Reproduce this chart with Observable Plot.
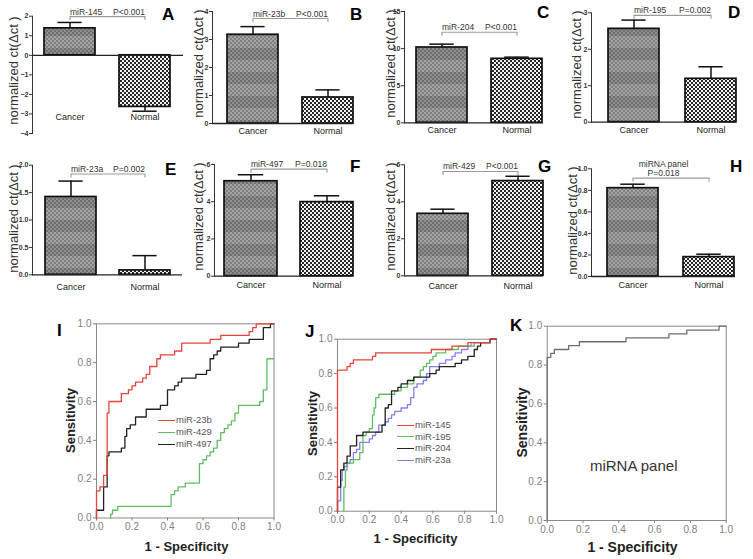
<!DOCTYPE html>
<html><head><meta charset="utf-8">
<script src="https://cdn.jsdelivr.net/npm/d3@7"></script>
<script src="https://cdn.jsdelivr.net/npm/@observablehq/plot@0.6"></script>
<style>
body{margin:0;background:#fff;}
#fig{position:relative;width:753px;height:559px;overflow:hidden;font-family:"Liberation Sans",Arial,sans-serif;background:#fff;}
.letter{position:absolute;font-weight:bold;font-size:17px;line-height:17px;color:#000;}
.leg{position:absolute;font-size:9.5px;color:#555;line-height:10px;white-space:nowrap;}
.leg .ln{display:inline-block;width:17px;height:0;border-top:1.6px solid;vertical-align:middle;margin-right:1px;}
</style></head><body>
<svg width="0" height="0" style="position:absolute;left:0;top:0">
<defs>
<pattern id="patCancer" width="4" height="24" patternUnits="userSpaceOnUse"></pattern>
<pattern id="patNormal" width="4" height="4" patternUnits="userSpaceOnUse">
<rect width="4" height="4" fill="#f2f2f2"/><rect x="0" y="0" width="2" height="2" fill="#262626"/><rect x="2" y="2" width="2" height="2" fill="#262626"/>
</pattern>
</defs></svg>
<div id="fig"></div>
<script>
// ---------- data: bar panels A-H ----------
const groups = ["Cancer", "Normal"];
const panelLetters = ["A","B","C","D","E","F","G","H"];
const panelMiRNA = ["miR-145","miR-23b","miR-204","miR-195","miR-23a","miR-497","miR-429","miRNA panel"];
const panelP = ["P<0.001","P<0.001","P<0.001","P=0.002","P=0.002","P=0.018","P<0.001","P=0.018"];
const cancerMean = [1.38, 3.17, 10.15, 2.56, 1.42, 5.10, 3.35, 0.82];
const cancerSEM  = [0.30, 0.29, 0.45, 0.24, 0.29, 0.35, 0.25, 0.037];
const normalMean = [-2.64, 0.93, 8.62, 1.19, 0.08, 3.98, 5.12, 0.18];
const normalSEM  = [0.22, 0.27, 0.23, 0.33, 0.27, 0.34, 0.26, 0.027];
const yAxisMin  = [-4, 0, 0, 0, 0, 0, 0, 0];
const yAxisMax  = [2, 4, 15, 3, 2, 6, 6, 1];
const yAxisStep = [1, 1, 5, 1, 0.5, 2, 2, 0.2];
const bracketLevel = [1.98, 3.75, 12.2, 2.93, 1.84, 5.75, 5.64, 0.913];
const yTitle = "normalized ct(\u0394ct )";

// ---------- data: ROC panels I-K (step vertices: 1-specificity, sensitivity) ----------
const rocTicks = [0, 0.2, 0.4, 0.6, 0.8, 1.0];
const I_miR23b_fpr = [0,0,0.02,0.04,0.06,0.07,0.14,0.18,0.20,0.22,0.26,0.28,0.30,0.34,0.36,0.44,0.48,0.64,0.70,0.86,0.88,0.90,1.0];
const I_miR23b_tpr = [0,0.14,0.16,0.22,0.54,0.60,0.64,0.66,0.68,0.70,0.72,0.74,0.78,0.82,0.84,0.86,0.90,0.92,0.94,0.96,0.98,1.0,1.0];
const I_miR429_fpr = [0.08,0.08,0.09,0.12,0.42,0.44,0.46,0.50,0.58,0.60,0.62,0.64,0.66,0.68,0.70,0.72,0.74,0.76,0.78,0.80,0.92,0.94,0.96,1.0];
const I_miR429_tpr = [0,0.02,0.04,0.06,0.12,0.14,0.16,0.18,0.28,0.30,0.32,0.34,0.36,0.40,0.44,0.46,0.48,0.50,0.54,0.58,0.60,0.66,0.82,0.82];
const I_miR497_fpr = [0,0,0.04,0.06,0.07,0.14,0.16,0.17,0.19,0.22,0.28,0.36,0.40,0.44,0.46,0.48,0.56,0.62,0.64,0.66,0.68,0.70,0.80,0.86,0.94,0.98,1.0];
const I_miR497_tpr = [0,0.04,0.16,0.32,0.34,0.36,0.42,0.46,0.48,0.52,0.56,0.58,0.66,0.68,0.70,0.72,0.74,0.76,0.82,0.84,0.86,0.88,0.90,0.92,0.98,1.0,1.0];
const J_miR145_fpr = [0,0,0.06,0.08,0.10,0.22,0.24,0.59,0.72,0.82,0.96,1.0];
const J_miR145_tpr = [0,0.82,0.84,0.86,0.88,0.90,0.92,0.94,0.96,0.98,1.0,1.0];
const J_miR195_fpr = [0.04,0.04,0.05,0.06,0.10,0.14,0.16,0.18,0.20,0.22,0.23,0.24,0.26,0.36,0.40,0.44,0.48,0.52,0.54,0.56,0.58,0.60,0.62,0.68,0.76,0.84,0.96,1.0];
const J_miR195_tpr = [0,0.14,0.24,0.28,0.30,0.34,0.44,0.46,0.48,0.56,0.60,0.66,0.68,0.70,0.72,0.74,0.78,0.82,0.84,0.86,0.88,0.90,0.92,0.94,0.96,0.98,1.0,1.0];
const J_miR204_fpr = [0,0,0.02,0.04,0.06,0.08,0.12,0.16,0.28,0.30,0.32,0.34,0.38,0.40,0.44,0.48,0.58,0.62,0.64,0.74,0.78,0.82,0.86,0.88,0.90,0.96,1.0];
const J_miR204_tpr = [0,0.14,0.24,0.28,0.32,0.38,0.44,0.46,0.50,0.60,0.62,0.70,0.72,0.74,0.76,0.78,0.80,0.82,0.84,0.86,0.88,0.90,0.94,0.96,0.98,1.0,1.0];
const J_miR23a_fpr = [0,0,0.02,0.03,0.04,0.06,0.08,0.10,0.12,0.14,0.20,0.22,0.24,0.26,0.30,0.32,0.34,0.36,0.40,0.44,0.46,0.48,0.50,0.54,0.56,0.58,0.64,0.68,0.72,0.74,0.78,0.82,0.86,0.96,1.0];
const J_miR23a_tpr = [0,0.06,0.18,0.24,0.26,0.28,0.30,0.34,0.36,0.40,0.42,0.44,0.46,0.50,0.52,0.54,0.56,0.58,0.60,0.62,0.66,0.72,0.74,0.76,0.80,0.84,0.86,0.88,0.90,0.92,0.94,0.96,0.98,1.0,1.0];
const K_panel_fpr = [0,0,0.02,0.04,0.12,0.18,0.44,0.68,0.78,0.96,1.0];
const K_panel_tpr = [0,0.84,0.86,0.88,0.90,0.92,0.94,0.96,0.98,1.0,1.0];

// ---------- layout (page pixels) ----------
const barBox   = [[0,0,188,148],[188,0,190,148],[378,0,187,148],[565,0,188,148],[0,148,188,152],[188,148,190,152],[378,148,187,152],[565,148,188,152]];
const barFrame = [[32,183,15.7,133],[212,353,11,123],[404,543,11,122.3],[591,736,12.3,121.7],[32,182,164.7,274.3],[214,353,164,275.7],[404,543,164.3,275.3],[591,735,168.3,276]];
const barPad   = [[12,12,24],[14,0,24],[12,1,24],[16,0,26],[13,11,23],[10,0,23],[12,0,24],[16,1,25]];
const catLabelY = [117,131,130,129.3,286.7,285,285.7,285];
const yTitlePos = [[13,70],[198,63],[390,63],[576,64],[13,218],[198,216],[390,216],[572,220]];
const letterPos = [[162,15],[350,15],[537,13],[728,13],[165,170],[350,167],[538,167],[730,167]];

// build cancer pattern (banded grey checker)
(function(){
  const p = document.getElementById("patCancer");
  const ns = "http://www.w3.org/2000/svg";
  const add = (x,y,w,h,f) => { const r = document.createElementNS(ns,"rect"); r.setAttribute("x",x); r.setAttribute("y",y); r.setAttribute("width",w); r.setAttribute("height",h); r.setAttribute("fill",f); p.appendChild(r); };
  add(0,0,4,12,"#8e8e8e"); add(0,12,4,12,"#a4a4a4");
  for (let r = 0; r < 12; r++) add((r%2)*2, r*2, 2, 2, "rgba(0,0,0,0.22)");
})();

const fig = document.getElementById("fig");
function place(el, x, y) { el.style.position = "absolute"; el.style.left = x + "px"; el.style.top = y + "px"; el.style.overflow = "visible"; fig.appendChild(el); }

const tickDown = { draw(ctx) { ctx.moveTo(0, 0); ctx.lineTo(0, 3.5); } };

for (let i = 0; i < 8; i++) {
  const [bx, by, bw, bh] = barBox[i];
  const [L, R, T, B] = barFrame[i];
  const [padL, padR, gap] = barPad[i];
  const band = (R - L - padL - padR - gap) / 2;
  const step = band + gap;
  const capInset = band * 0.26;
  const data = [
    {g: groups[0], v: cancerMean[i], e: cancerSEM[i]},
    {g: groups[1], v: normalMean[i], e: normalSEM[i]}
  ];
  const tip = d => d.v + (d.v < 0 ? -d.e : d.e);
  const ticks = d3.range(yAxisMin[i], yAxisMax[i] + yAxisStep[i] / 2, yAxisStep[i]);
  const fmt = yAxisStep[i] < 1 ? d3.format(".1f") : d3.format("d");
  const lvl = bracketLevel[i];
  const isPanel = i === 7;
  const marks = [
    Plot.barY([data[0]], {x: "g", y: "v", fill: "url(#patCancer)", stroke: "#111", strokeWidth: 1.7}),
    Plot.barY([data[1]], {x: "g", y: "v", fill: "url(#patNormal)", stroke: "#111", strokeWidth: 1.7}),
    Plot.ruleX(data, {x: "g", y1: "v", y2: tip, stroke: "#111", strokeWidth: 1.5}),
    Plot.tickY(data, {x: "g", y: tip, stroke: "#111", strokeWidth: 1.5, insetLeft: capInset, insetRight: capInset}),
    Plot.ruleY([0], {stroke: "#222", strokeWidth: 1.3}),
    Plot.line(groups, {x: d => d, y: () => lvl, stroke: "#9a9a9a", strokeWidth: 1.1}),
    Plot.dot(groups, {x: d => d, y: () => lvl, symbol: tickDown, stroke: "#9a9a9a", strokeWidth: 1.1}),
    Plot.text(groups, {x: d => d, text: d => d, frameAnchor: "bottom", lineAnchor: "middle", dy: catLabelY[i] - B, fontSize: 9, fontWeight: "normal", fill: "#222"}),
    Plot.text([yTitle], {frameAnchor: "left", textAnchor: "middle", lineAnchor: "middle", rotate: -90, dx: yTitlePos[i][0] - L, dy: yTitlePos[i][1] - (T + B) / 2, fontSize: 13, fontWeight: "normal", fill: "#333"})
  ];
  if (isPanel) {
    marks.push(Plot.text([panelMiRNA[i]], {y: () => lvl, text: d => d, lineAnchor: "bottom", dy: -11.5, fontSize: 8.5, fontWeight: "normal", fill: "#333"}));
    marks.push(Plot.text([panelP[i]], {y: () => lvl, text: d => d, lineAnchor: "bottom", dy: -2, fontSize: 8.5, fontWeight: "normal", fill: "#333"}));
  } else {
    marks.push(Plot.text([panelMiRNA[i]], {x: () => groups[0], y: () => lvl, text: d => d, textAnchor: "start", lineAnchor: "bottom", dy: -2, fontSize: 8.5, fontWeight: "normal", fill: "#333"}));
    marks.push(Plot.text([panelP[i]], {x: () => groups[1], y: () => lvl, text: d => d, textAnchor: "end", lineAnchor: "bottom", dy: -2, fontSize: 8.5, fontWeight: "normal", fill: "#333"}));
  }
  const svg = Plot.plot({
    width: bw, height: bh,
    marginLeft: L - bx, marginRight: bx + bw - R, marginTop: T - by, marginBottom: by + bh - B,
    style: {background: "transparent", fontFamily: "'Liberation Sans', Arial, sans-serif", fontSize: "7px", fontWeight: "bold", color: "#333", overflow: "visible"},
    x: {domain: groups, paddingInner: gap / step, paddingOuter: (padL + padR) / 2 / step, align: (padL + padR) > 0 ? padL / (padL + padR) : 0.5, axis: null},
    y: {domain: [yAxisMin[i], yAxisMax[i]], ticks, tickFormat: fmt, tickSize: 3, tickPadding: 1, label: null, line: true},
    marks
  });
  place(svg, bx, by);
  const lt = document.createElement("div");
  lt.className = "letter"; lt.textContent = panelLetters[i];
  lt.style.left = letterPos[i][0] + "px"; lt.style.top = (letterPos[i][1] - 9) + "px";
  fig.appendChild(lt);
}

// ---------- ROC panels ----------
const rocBox = [[40,300,240,259],[280,300,225,259],[505,300,248,259]];
const rocFrame = [[96,273.5,323.3,517.5],[337,496,338.7,510.7],[546.7,725.7,325.7,520]];
const rocLetters = ["I","J","K"];
const rocLetterPos = [[57,331],[305,332],[510,326]];
const rocSeries = [
  [["miR-23b", I_miR23b_fpr, I_miR23b_tpr, "#e4453b"], ["miR-429", I_miR429_fpr, I_miR429_tpr, "#62bd62"], ["miR-497", I_miR497_fpr, I_miR497_tpr, "#222222"]],
  [["miR-145", J_miR145_fpr, J_miR145_tpr, "#e4453b"], ["miR-195", J_miR195_fpr, J_miR195_tpr, "#62bd62"], ["miR-204", J_miR204_fpr, J_miR204_tpr, "#222222"], ["miR-23a", J_miR23a_fpr, J_miR23a_tpr, "#8080ee"]],
  [["miRNA panel", K_panel_fpr, K_panel_tpr, "#6e6e6e"]]
];
const legendPos = [[158, [420, 432, 444]], [397, [425, 436.5, 448, 460]], null];
const titleSize = [13, 13, 14];
const xTitleCenter = [[186, 546], [415, 538], [632, 547]];
const yTitleCenter = [[70, 420], [312, 423], [522, 422]];

for (let k = 0; k < 3; k++) {
  const [bx, by, bw, bh] = rocBox[k];
  const [L, R, T, B] = rocFrame[k];
  const marks = [Plot.frame({stroke: "#8a8a8a", strokeWidth: 1})];
  const order = k === 0 ? [1, 2, 0] : k === 1 ? [3, 1, 2, 0] : [0];
  for (const s of order) {
    const [name, fx, ty, col] = rocSeries[k][s];
    marks.push(Plot.line(fx.map((x, j) => ({x, y: ty[j]})), {x: "x", y: "y", curve: "step-after", stroke: col, strokeWidth: 1.3}));
  }
  marks.push(Plot.text(["Sensitivity"], {frameAnchor: "left", textAnchor: "middle", lineAnchor: "middle", rotate: -90, dx: yTitleCenter[k][0] - L, dy: yTitleCenter[k][1] - (T + B) / 2, fontSize: titleSize[k], fontWeight: "bold", fill: "#222"}));
  marks.push(Plot.text(["1 - Specificity"], {frameAnchor: "bottom", textAnchor: "middle", lineAnchor: "middle", dx: xTitleCenter[k][0] - (L + R) / 2, dy: xTitleCenter[k][1] - B, fontSize: titleSize[k], fontWeight: "bold", fill: "#222"}));
  if (k === 2) marks.push(Plot.text(["miRNA panel"], {frameAnchor: "middle", dx: -3, dy: 43, fontSize: 15, fontWeight: "normal", fill: "#333"}));
  const svg = Plot.plot({
    width: bw, height: bh,
    marginLeft: L - bx, marginRight: bx + bw - R, marginTop: T - by, marginBottom: by + bh - B,
    style: {background: "transparent", fontFamily: "'Liberation Sans', Arial, sans-serif", fontSize: "10px", color: "#808080", overflow: "visible"},
    x: {domain: [0, 1], ticks: rocTicks, tickFormat: d3.format(".1f"), tickSize: 3, tickPadding: 2, label: null},
    y: {domain: [0, 1], ticks: rocTicks, tickFormat: d3.format(".1f"), tickSize: 3, tickPadding: 2, label: null},
    marks
  });
  place(svg, bx, by);
  const lt = document.createElement("div");
  lt.className = "letter"; lt.textContent = rocLetters[k];
  lt.style.left = rocLetterPos[k][0] + "px"; lt.style.top = (rocLetterPos[k][1] - 9) + "px";
  fig.appendChild(lt);
  if (legendPos[k]) {
    const [lx, rows] = legendPos[k];
    rocSeries[k].forEach(([name, , , col], j) => {
      const d = document.createElement("div");
      d.className = "leg";
      d.style.left = lx + "px"; d.style.top = (rows[j] - 5) + "px";
      const ln = document.createElement("span"); ln.className = "ln"; ln.style.borderTopColor = col;
      d.appendChild(ln); d.appendChild(document.createTextNode(name));
      fig.appendChild(d);
    });
  }
}
</script>
</body></html>
